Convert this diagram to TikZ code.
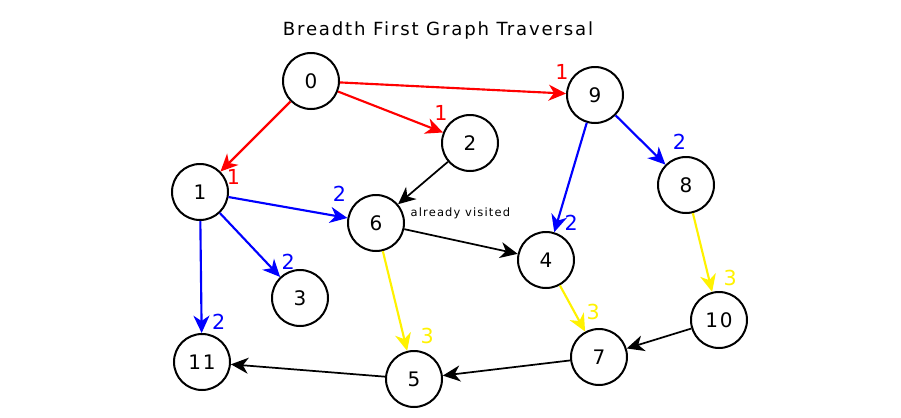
\documentclass[tikz,border=0pt]{standalone}
\usepackage{fontspec}
\setmainfont{DejaVu Sans}
\newfontfamily\spaced[LetterSpace=10]{DejaVu Sans}
\usetikzlibrary{arrows.meta}

\begin{document}
\begin{tikzpicture}[x=0.75pt, y=-0.75pt,
    vertex/.style={circle, draw, line width=1.5pt, minimum size=42pt, inner sep=0pt,
        font=\spaced\fontsize{15}{17}\selectfont},
    hop/.style={line width=1.6pt, -{Stealth[length=13pt, width=12pt, inset=4pt]}},
    seen/.style={hop, line width=1.3pt},
    lbl/.style={font=\fontsize{15.5}{17}\selectfont, inner sep=0pt}]
    \useasboundingbox (0,0) rectangle (901,418);
    \node (title) at (438,30) {\spaced\fontsize{13.6}{15}\selectfont Breadth First Graph Traversal};
    \node[vertex] (n0) at (311,81) {0};
    \node[vertex] (n9) at (595,95) {9};
    \node[vertex] (n2) at (470,143) {2};
    \node[vertex] (n1) at (200,192) {1};
    \node[vertex] (n8) at (686,185) {8};
    \node[vertex] (n6) at (376,223) {6};
    \node[vertex] (n4) at (546,260) {4};
    \node[vertex] (n3) at (300,298) {3};
    \node[vertex] (n10) at (719,320) {10};
    \node[vertex] (n7) at (599,357) {7};
    \node[vertex] (n11) at (202,362) {11};
    \node[vertex] (n5) at (414,379) {5};
    % level 1
    \draw[hop, red] (n0) -- (n1) node[lbl, at end, shift={(13,5)}] {1};
    \draw[hop, red] (n0) -- (n2) node[lbl, at end, shift={(-2,-20)}] {1};
    \draw[hop, red] (n0) -- (n9) node[lbl, at end, shift={(-4,-22)}] {1};
    % level 2
    \draw[hop, blue] (n1) -- (n6) node[lbl, at end, shift={(-8,-24)}] {2};
    \draw[hop, blue] (n1) -- (n3) node[lbl, at end, shift={(8,-15)}] {2};
    \draw[hop, blue] (n1) -- (n11) node[lbl, at end, shift={(17,-11)}] {2};
    \draw[hop, blue] (n9) -- (n4) node[lbl, at end, shift={(17,-9)}] {2};
    \draw[hop, blue] (n9) -- (n8) node[lbl, at end, shift={(14,-23)}] {2};
    % level 3
    \draw[hop, yellow] (n6) -- (n5) node[lbl, at end, shift={(20,-15)}] {3};
    \draw[hop, yellow] (n4) -- (n7) node[lbl, at end, shift={(8,-20)}] {3};
    \draw[hop, yellow] (n8) -- (n10) node[lbl, at end, shift={(18,-14)}] {3};
    % already visited
    \draw[seen] (n2) -- (n6);
    \draw[seen] (n6) -- (n4);
    \node[font=\spaced\fontsize{8.6}{10}\selectfont, anchor=west] (visited) at (406,213) {already visited};
    \draw[seen] (n10) -- (n7);
    \draw[seen] (n7) -- (n5);
    \draw[seen] (n5) -- (n11);
\end{tikzpicture}
\end{document}
